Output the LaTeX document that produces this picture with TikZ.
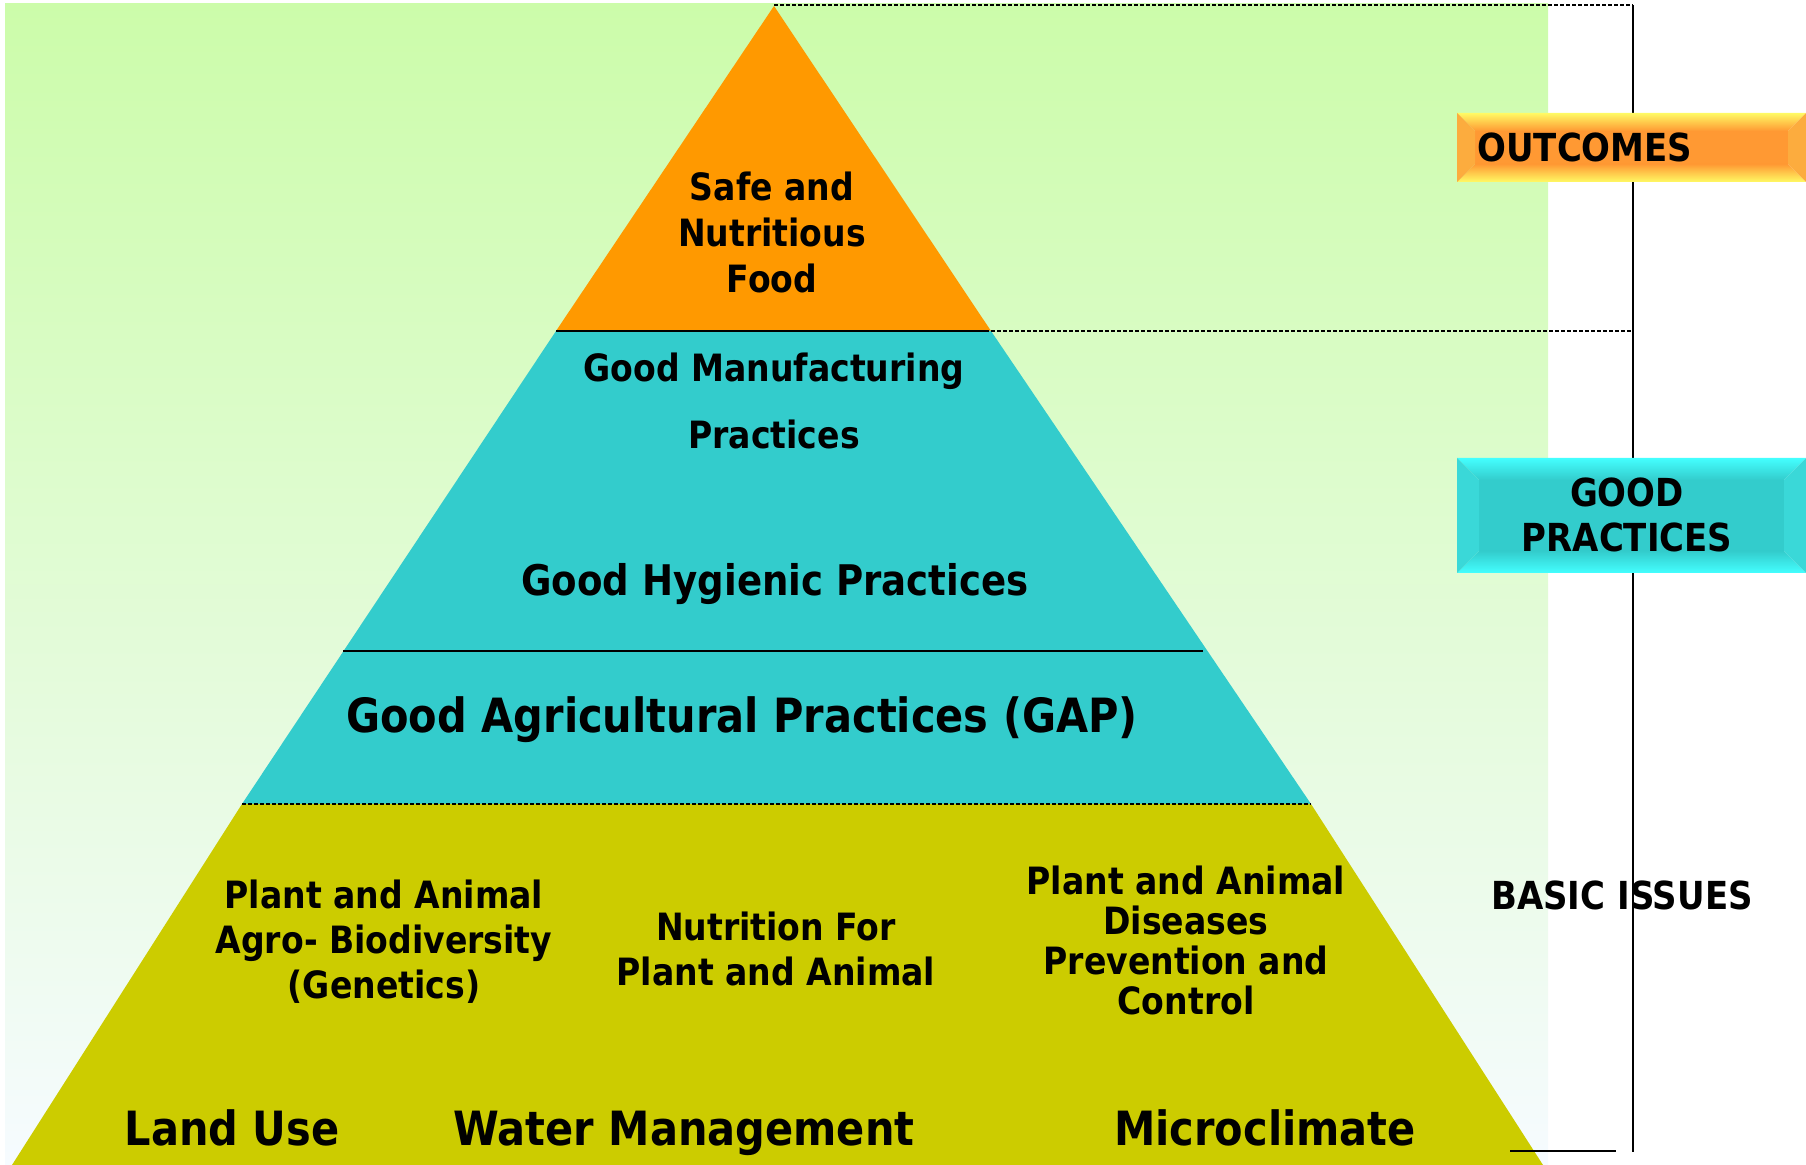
\documentclass[tikz,border=0pt]{standalone}
\usepackage{fontspec}
\setmainfont{DejaVu Sans}[FakeStretch=0.88]
\definecolor{pyrorange}{RGB}{255,153,0}
\definecolor{pyrcyan}{RGB}{51,204,204}
\definecolor{pyrolive}{RGB}{204,204,0}
\definecolor{bgtop}{RGB}{204,252,170}
\definecolor{bgmid}{RGB}{226,250,212}
\definecolor{bgbot}{RGB}{246,251,255}
\definecolor{outface}{RGB}{255,153,51}
\definecolor{outlight}{RGB}{255,250,100}
\definecolor{outside}{RGB}{252,172,62}
\definecolor{gpface}{RGB}{51,204,204}
\definecolor{gplight}{RGB}{68,255,255}
\definecolor{gpside}{RGB}{58,216,216}
% #1,#2 upper left, #3,#4 lower right, #5 bevel, #6 light, #7 side, #8 face
\newcommand\bevelbox[8]{
	\fill[#8] (#1+#5,#2+#5) rectangle (#3-#5,#4-#5);
	\shade[top color=#6, bottom color=#8] (#1,#2) -- (#3,#2) -- (#3-#5,#2+#5) -- (#1+#5,#2+#5) -- cycle;
	\shade[top color=#8, bottom color=#6] (#1,#4) -- (#3,#4) -- (#3-#5,#4-#5) -- (#1+#5,#4-#5) -- cycle;
	\fill[#7] (#1,#2) -- (#1+#5,#2+#5) -- (#1+#5,#4-#5) -- (#1,#4) -- cycle;
	\fill[#7] (#3,#2) -- (#3-#5,#2+#5) -- (#3-#5,#4-#5) -- (#3,#4) -- cycle;
}
\begin{document}
\begin{tikzpicture}[x=0.5pt,y=-0.5pt,
		lbl/.style={font=\fontsize{18.8}{22.5}\selectfont\bfseries, align=center, inner sep=0pt},
		big/.style={font=\fontsize{23.6}{28}\selectfont\bfseries, inner sep=0pt},
		side/.style={font=\fontsize{19.3}{22.5}\selectfont\bfseries, align=center, inner sep=0pt},
		rule/.style={line width=1pt},
		dashrule/.style={line width=1pt, dash pattern=on 2pt off 1pt}]
	\useasboundingbox (0,0) rectangle (1806,1165);
	\shade[top color=bgtop, middle color=bgmid, bottom color=bgbot] (5,4) rectangle (1548,1165);

	\fill[pyrorange] (774,6) -- (991,331) -- (556,331) -- cycle;
	\fill[pyrcyan] (556,331) -- (991,331) -- (1311,804) -- (242,804) -- cycle;
	\fill[pyrolive] (242,804) -- (1311,804) -- (1543,1165) -- (12,1165) -- cycle;

	\draw[rule] (556,331) -- (985,331);
	\draw[dashrule] (985,331) -- (1633,331);
	\draw[dashrule] (774,5) -- (1633,5);
	\draw[rule] (343,651) -- (1203,651);
	\draw[dashrule] (242,804) -- (1311,804);

	\node[lbl, font=\fontsize{18.8}{23}\selectfont\bfseries] (food) at (772,232) {Safe and\\Nutritious\\Food};
	\node[lbl, font=\fontsize{18.8}{33.5}\selectfont\bfseries] (gmp) at (774,401) {Good Manufacturing\\Practices};
	\node[lbl, font=\fontsize{21.1}{25}\selectfont\bfseries] (ghp) at (775,584) {Good Hygienic Practices};
	\node[big] (gap) at (742,720) {Good Agricultural Practices (GAP)};

	\node[lbl] (genetics) at (384,942) {Plant and Animal\\Agro- Biodiversity\\(Genetics)};
	\node[lbl] (nutrition) at (776,949) {Nutrition For\\Plant and Animal};
	\node[lbl, font=\fontsize{18.8}{20}\selectfont\bfseries] (diseases) at (1186,940) {Plant and Animal\\Diseases\\Prevention and\\Control};
	\node[big, anchor=base] (land) at (232,1145) {Land Use};
	\node[big, anchor=base] (water) at (684,1145) {Water Management};
	\node[big, anchor=base] (micro) at (1265,1145) {Microclimate};

	\node[side] (basic) at (1622,895) {BASIC ISSUES};
	\draw[line width=0.75pt] (1633,5) -- (1633,1152);
	\draw[line width=1pt] (1510,1151) -- (1616,1151);

	\bevelbox{1457}{113}{1806}{182}{18}{outlight}{outside}{outface}
	\node[side, anchor=west] (outcomes) at (1477,147) {OUTCOMES};
	\bevelbox{1457}{458}{1806}{573}{22}{gplight}{gpside}{gpface}
	\node[side] (goodprac) at (1627,515) {GOOD\\PRACTICES};
\end{tikzpicture}
\end{document}
